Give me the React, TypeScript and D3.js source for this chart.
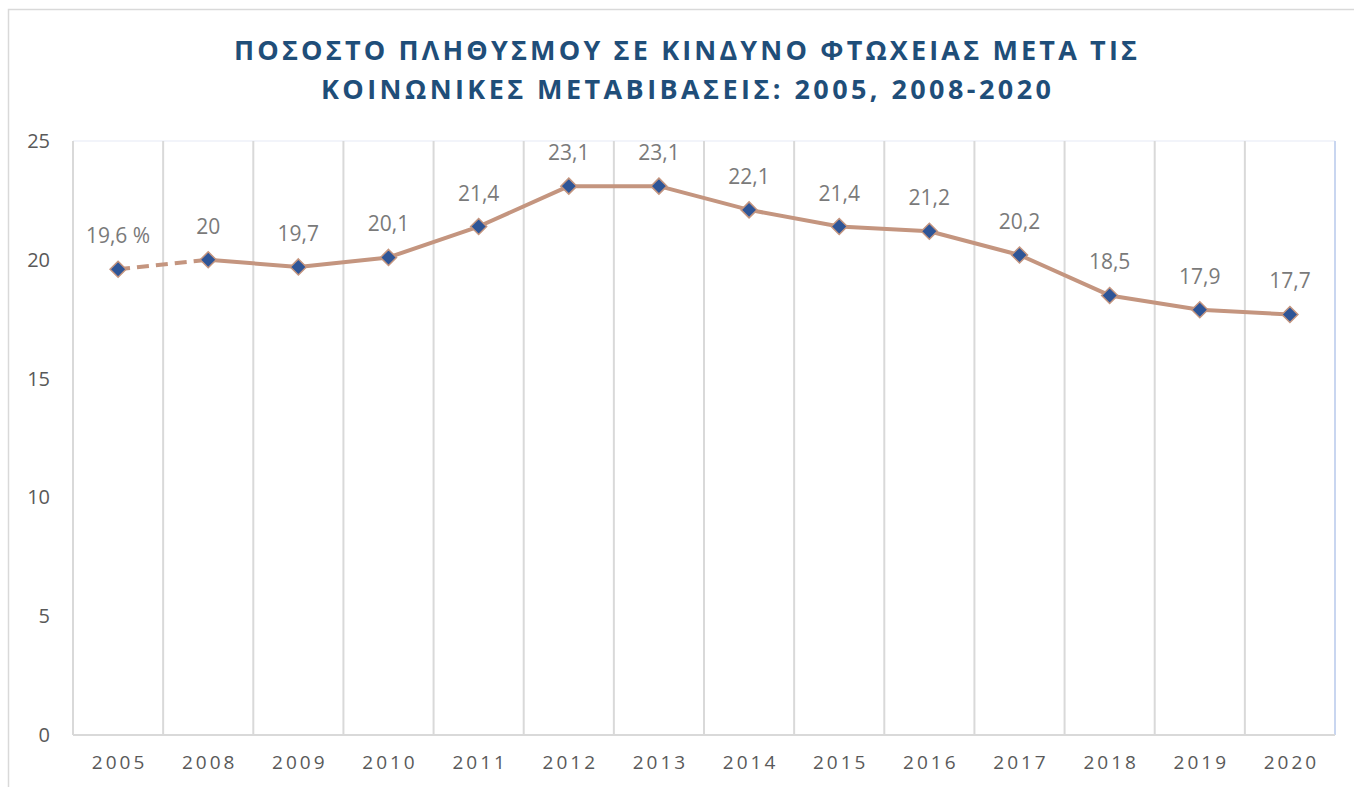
import React from "react";
import * as d3 from "d3";

const years = ["2005", "2008", "2009", "2010", "2011", "2012", "2013", "2014", "2015", "2016", "2017", "2018", "2019", "2020"];
const values = [19.6, 20, 19.7, 20.1, 21.4, 23.1, 23.1, 22.1, 21.4, 21.2, 20.2, 18.5, 17.9, 17.7];
const labels = ["19,6 %", "20", "19,7", "20,1", "21,4", "23,1", "23,1", "22,1", "21,4", "21,2", "20,2", "18,5", "17,9", "17,7"];
const yTicks = [0, 5, 10, 15, 20, 25];
const titleLines = ["ΠΟΣΟΣΤΟ ΠΛΗΘΥΣΜΟΥ ΣΕ ΚΙΝΔΥΝΟ ΦΤΩΧΕΙΑΣ ΜΕΤΑ ΤΙΣ", "ΚΟΙΝΩΝΙΚΕΣ ΜΕΤΑΒΙΒΑΣΕΙΣ: 2005, 2008-2020"];

const W = 1354, H = 787;
const left = 73, right = 1335, top = 141, bottom = 735;
const font = "'Open Sans', sans-serif";

export default function App() {
  const x = d3.scaleBand<string>().domain(years).range([left, right]).padding(0);
  const y = d3.scaleLinear().domain([0, 25]).range([bottom, top]);
  const cx = (i: number) => (x(years[i]) as number) + x.bandwidth() / 2;
  const pts: [number, number][] = values.map((v, i) => [cx(i), y(v)]);
  const line = d3.line<[number, number]>();
  const dashed = line(pts.slice(0, 2)) as string;
  const solid = line(pts.slice(1)) as string;
  const lineColor = "#c4957f";
  const gridEdges = years.map((yr) => x(yr) as number).concat([right]);

  return (
    <svg width={W} height={H} style={{ position: "absolute", left: 0, top: 0, display: "block" }}>
      <rect x={0} y={0} width={W} height={H} fill="#ffffff" />
      <rect x={8.5} y={9.5} width={W + 10} height={H + 10} fill="none" stroke="#d9d9d9" strokeWidth={1.5} />
      {titleLines.map((t, i) => (
        <text
          key={i}
          x={[234, 321][i]}
          y={[60, 99][i]}
          textLength={[903, 730][i]}
          lengthAdjust="spacing"
          fontFamily={font}
          fontWeight={700}
          fontSize={27}
          fill="#1f4e79"
        >
          {t}
        </text>
      ))}
      {/* plot area top and right */}
      <line x1={left} x2={right} y1={top} y2={top} stroke="#eef0f8" strokeWidth={1.5} />
      {gridEdges.map((gx, i) => (
        <line
          key={i}
          x1={gx}
          x2={gx}
          y1={top}
          y2={bottom}
          stroke={i === gridEdges.length - 1 ? "#c9d6f0" : "#d9d9d9"}
          strokeWidth={2}
        />
      ))}
      <line x1={left} x2={right} y1={bottom} y2={bottom} stroke="#d9d9d9" strokeWidth={2} />
      {yTicks.map((t) => (
        <text key={t} x={50} y={y(t) + 7} textAnchor="end" fontFamily={font} fontSize={20} fill="#595959">
          {t}
        </text>
      ))}
      {years.map((yr, i) => (
        <text
          key={yr}
          x={cx(i) + 1.5}
          y={769}
          textAnchor="middle"
          fontFamily={font}
          fontSize={19}
          letterSpacing={3}
          fill="#595959"
        >
          {yr}
        </text>
      ))}
      <path d={dashed} fill="none" stroke={lineColor} strokeWidth={4} strokeDasharray="12 7" />
      <path d={solid} fill="none" stroke={lineColor} strokeWidth={4} strokeLinejoin="round" />
      {pts.map(([px, py], i) => (
        <path
          key={i}
          d={`M${px},${py - 8}L${px + 8},${py}L${px},${py + 8}L${px - 8},${py}Z`}
          fill="#2e5597"
          stroke={lineColor}
          strokeWidth={1.5}
        />
      ))}
      {pts.map(([px, py], i) => (
        <text key={i} x={px} y={py - 26} textAnchor="middle" fontFamily={font} fontSize={21} fill="#7a7a7a">
          {labels[i]}
        </text>
      ))}
    </svg>
  );
}
